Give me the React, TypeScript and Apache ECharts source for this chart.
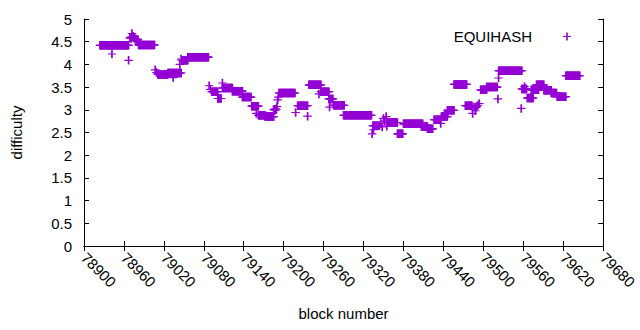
import React, { useEffect, useRef } from "react";
import * as echarts from "echarts";

// Runs of blocks with (nearly) constant difficulty
const runStart = [78924, 78982, 79011, 79026, 79047, 79056, 79092, 79101, 79108, 79123, 79138, 79152, 79162, 79172, 79193, 79221, 79238, 79256, 79268, 79275, 79290, 79334, 79356, 79371, 79380, 79407, 79416, 79426, 79437, 79446, 79456, 79473, 79496, 79505, 79523, 79558, 79566, 79572, 79580, 79591, 79602, 79611, 79624];
const runEnd = [78967, 79006, 79026, 79046, 79056, 79087, 79101, 79106, 79123, 79138, 79151, 79162, 79172, 79185, 79217, 79236, 79256, 79268, 79274, 79291, 79332, 79344, 79371, 79379, 79409, 79416, 79424, 79436, 79446, 79456, 79475, 79483, 79505, 79521, 79558, 79565, 79575, 79583, 79591, 79602, 79610, 79624, 79645];
const runValue = [4.42, 4.43, 3.78, 3.81, 4.09, 4.16, 3.40, 3.25, 3.48, 3.41, 3.28, 3.08, 2.88, 2.85, 3.37, 3.09, 3.55, 3.40, 3.24, 3.10, 2.88, 2.65, 2.72, 2.47, 2.69, 2.63, 2.58, 2.78, 2.85, 2.99, 3.56, 3.09, 3.44, 3.50, 3.86, 3.46, 3.26, 3.44, 3.55, 3.43, 3.37, 3.29, 3.75];

// Individual points
const pointBlock = [78942, 78967, 78969, 78970, 78971, 78972, 78973, 78974, 78975, 78976, 78977, 78978, 78979, 78980, 78981, 79007, 79009, 79034, 79044, 79046, 79088, 79090, 79108, 79159, 79185, 79186, 79187, 79188, 79189, 79190, 79191, 79192, 79218, 79236, 79253, 79269, 79333, 79335, 79346, 79348, 79350, 79352, 79354, 79355, 79436, 79447, 79484, 79486, 79488, 79489, 79490, 79492, 79494, 79522, 79523, 79557, 79562];
const pointValue = [4.23, 4.09, 4.58, 4.60, 4.57, 4.68, 4.60, 4.62, 4.58, 4.60, 4.55, 4.56, 4.55, 4.53, 4.55, 3.88, 3.82, 3.71, 4.00, 4.12, 3.53, 3.45, 3.59, 2.92, 3.00, 3.01, 2.99, 3.02, 3.00, 3.07, 3.22, 3.28, 2.94, 2.86, 3.35, 3.06, 2.47, 2.56, 2.70, 2.62, 2.81, 2.75, 2.85, 2.64, 2.70, 2.96, 2.92, 3.06, 2.98, 3.05, 3.07, 3.10, 3.14, 3.24, 3.70, 3.03, 3.51];

const seriesName = "EQUIHASH";
const xName = "block number";
const yName = "difficulty";

const PLUS = "path://M3.6,0h1.8v3.9h3.6v1.2h-3.6v3.9h-1.8v-3.9h-3.6v-1.2h3.6z";
const FONT = "'Liberation Sans', Arial, sans-serif";

function buildData(): number[][] {
  const d: number[][] = [];
  for (let i = 0; i < runStart.length; i++) {
    for (let b = runStart[i]; b <= runEnd[i]; b++) d.push([b, runValue[i]]);
  }
  for (let i = 0; i < pointBlock.length; i++) d.push([pointBlock[i], pointValue[i]]);
  return d;
}

export default function App() {
  const ref = useRef<HTMLDivElement>(null);
  useEffect(() => {
    const chart = echarts.init(ref.current!, null, { renderer: "svg" });
    const axisCommon = {
      axisLine: { show: true, lineStyle: { color: "#000", width: 1 } },
      axisTick: { show: true, inside: true, length: 5, lineStyle: { color: "#000" } },
      splitLine: { show: false },
    };
    chart.setOption({
      animation: false,
      backgroundColor: "#fff",
      textStyle: { fontFamily: FONT },
      grid: { left: 84, top: 19, right: 31, bottom: 84, containLabel: false },
      legend: {
        show: true,
        right: 64,
        top: 24,
        align: "right",
        itemWidth: 60,
        itemHeight: 8,
        icon: PLUS,
        textStyle: { fontFamily: FONT, fontSize: 15, color: "#000" },
        data: [seriesName],
      },
      xAxis: [
        {
          type: "value",
          min: 78900,
          max: 79680,
          interval: 60,
          position: "bottom",
          ...axisCommon,
          axisLabel: {
            rotate: -45,
            margin: 9,
            fontSize: 15,
            color: "#000",
            fontFamily: FONT,
            showMaxLabel: true,
            formatter: (v: number) => String(v),
          },
          name: xName,
          nameLocation: "middle",
          nameGap: 60,
          nameTextStyle: { fontSize: 15, color: "#000", fontFamily: FONT },
        },
        {
          type: "value",
          min: 78900,
          max: 79680,
          interval: 60,
          position: "top",
          ...axisCommon,
          axisLabel: { show: false },
        },
      ],
      yAxis: [
        {
          type: "value",
          min: 0,
          max: 5,
          interval: 0.5,
          position: "left",
          ...axisCommon,
          axisLabel: { margin: 12, fontSize: 15, color: "#000", fontFamily: FONT },
          name: yName,
          nameLocation: "middle",
          nameGap: 60,
          nameRotate: 90,
          nameTextStyle: { fontSize: 15, color: "#000", fontFamily: FONT },
        },
        {
          type: "value",
          min: 0,
          max: 5,
          interval: 0.5,
          position: "right",
          ...axisCommon,
          axisLabel: { show: false },
        },
      ],
      series: [
        {
          name: seriesName,
          type: "scatter",
          xAxisIndex: 0,
          yAxisIndex: 0,
          symbol: PLUS,
          symbolSize: 8.5,
          itemStyle: { color: "#9400d3", opacity: 1 },
          data: buildData(),
        },
      ],
    });
    return () => chart.dispose();
  }, []);
  return <div ref={ref} style={{ position: "fixed", left: 0, top: 0, width: 640, height: 330 }} />;
}
